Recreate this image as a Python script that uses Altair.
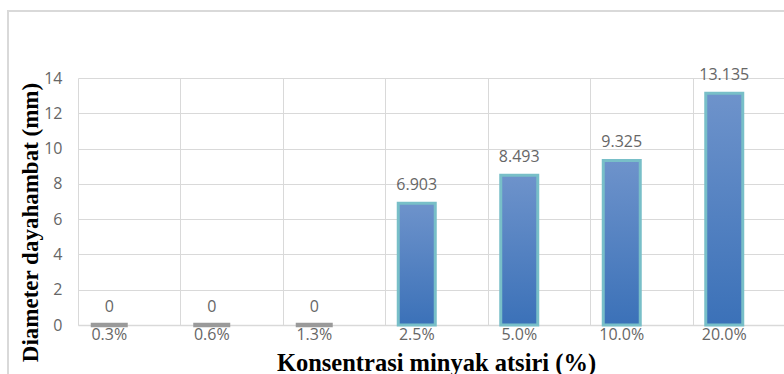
import altair as alt
import pandas as pd

categories = ["0.3%", "0.6%", "1.3%", "2.5%", "5.0%", "10.0%", "20.0%"]
values = [0, 0, 0, 6.903, 8.493, 9.325, 13.135]
labels = ["0", "0", "0", "6.903", "8.493", "9.325", "13.135"]
y_ticks = [0, 2, 4, 6, 8, 10, 12, 14]

df = pd.DataFrame({"cat": categories, "value": values, "label": labels})

GRID = "#d9d9d9"
TXT = "#666666"
LABEL_FONT = "Open Sans"
TITLE_FONT = "Liberation Serif"

x_enc = alt.X(
    "cat:N",
    sort=categories,
    scale=alt.Scale(range=[0, 717.5], paddingInner=0, paddingOuter=0),
    axis=alt.Axis(
        title="Konsentrasi minyak atsiri (%)",
        titleFont=TITLE_FONT, titleFontSize=24.5, titleFontWeight="bold", titleColor="black",
        titleX=358, titleY=45, titleBaseline="alphabetic", titleAnchor="start", titleAlign="center",
        labelFont=LABEL_FONT, labelFontSize=16, labelColor=TXT, labelAngle=0,
        labelPadding=1, labelBaseline="top", labelAlign="center", labelOffset=-20,
        labelOverlap=False,
        bandPosition=0, grid=True, gridColor=GRID, gridWidth=1,
        ticks=False, domain=True, domainColor=GRID, domainWidth=1.5,
    ),
)

y_enc = alt.Y(
    "value:Q",
    scale=alt.Scale(domain=[0, 14], nice=False),
    axis=alt.Axis(
        values=y_ticks,
        tickCount=8,
        title="Diameter dayahambat (mm)",
        titleFont=TITLE_FONT, titleFontSize=23, titleFontWeight="bold", titleColor="black",
        titleX=-41, titleY=144, titleAngle=-90, titleBaseline="alphabetic", titleAlign="center",
        labelFont=LABEL_FONT, labelFontSize=16, labelColor=TXT, labelPadding=16,
        labelOverlap=False,
        grid=True, gridColor=GRID, gridWidth=1,
        ticks=False, domain=False,
    ),
)

gradient = alt.Gradient(
    gradient="linear",
    stops=[alt.GradientStop(color="#6e93cb", offset=0), alt.GradientStop(color="#3b71b8", offset=1)],
    x1=0, x2=0, y1=0, y2=1,
)

bars = alt.Chart(df).mark_bar(width=37, xOffset=-20, color=gradient).encode(
    x=x_enc,
    y=y_enc,
    stroke=alt.condition("datum.value == 0", alt.value("#9a9a9a"), alt.value("#78bfc8")),
    strokeWidth=alt.condition("datum.value == 0", alt.value(4.5), alt.value(3)),
)

text = alt.Chart(df).mark_text(
    xOffset=-20, dy=-13, baseline="alphabetic", font=LABEL_FONT, fontSize=16, color=TXT
).encode(
    x=x_enc,
    y=y_enc,
    text="label:N",
)

frame = alt.Chart(df).mark_rect(fill=None, stroke=GRID, strokeWidth=1.5).encode(
    x=alt.value(-70), x2=alt.value(760), y=alt.value(-67), y2=alt.value(400)
)

chart = (
    alt.layer(frame, bars, text)
    .properties(
        width=706,
        height=247,
        autosize=alt.AutoSizeParams(type="none"),
        padding={"left": 78, "top": 78, "right": 0, "bottom": 49},
        background="white",
    )
    .configure_view(stroke=None)
)

chart.save("out.html", embed_options={"renderer": "svg", "actions": False})
